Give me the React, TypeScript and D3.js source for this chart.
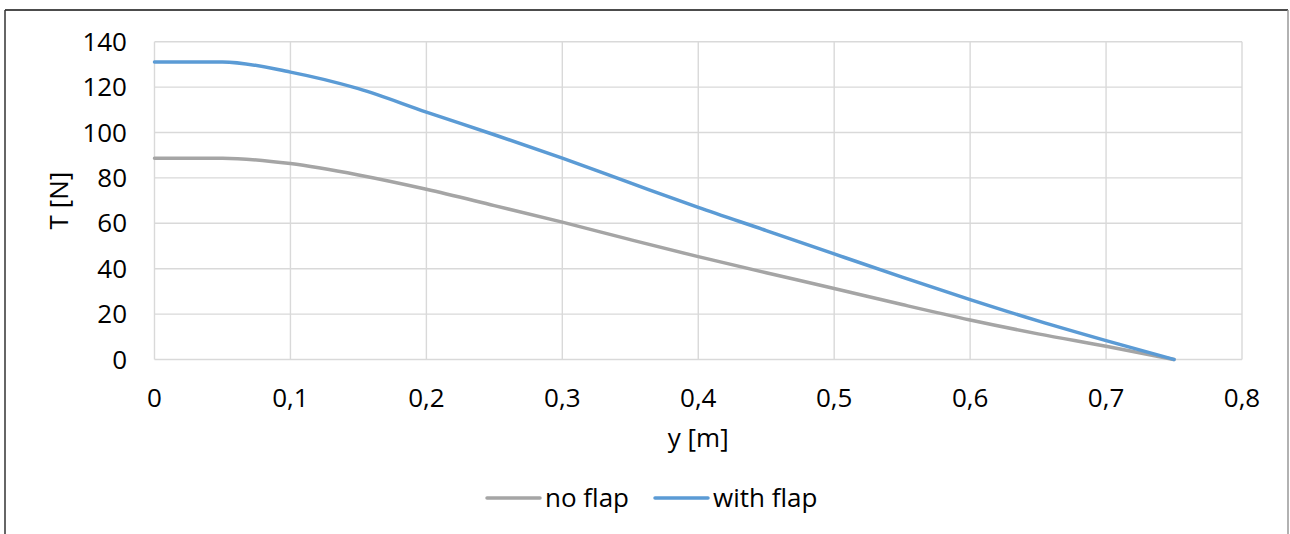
import React from "react";
import * as d3 from "d3";

const yPositions = [0, 0.05, 0.1, 0.15, 0.2, 0.25, 0.3, 0.35, 0.4, 0.45, 0.5, 0.55, 0.6, 0.65, 0.7, 0.75];
const withFlap = [131.1, 131.1, 126.6, 119.3, 109.0, 99.0, 88.7, 77.8, 67.0, 56.8, 46.5, 36.3, 26.4, 17.0, 8.3, 0];
const noFlap = [88.7, 88.7, 86.3, 81.3, 75.0, 67.8, 60.5, 52.8, 45.3, 38.2, 31.3, 24.2, 17.4, 11.3, 5.8, 0];
const xTicks = [0, 0.1, 0.2, 0.3, 0.4, 0.5, 0.6, 0.7, 0.8];
const yTicks = [0, 20, 40, 60, 80, 100, 120, 140];
const seriesNames = ["no flap", "with flap"];
const seriesColors = ["#a5a5a5", "#5b9bd5"];

const W = 1290;
const H = 534;
const FONT = "'Open Sans', 'Liberation Sans', sans-serif";

export default function App() {
  const x = d3.scaleLinear().domain([0, 0.8]).range([154.5, 1242]);
  const y = d3.scaleLinear().domain([0, 140]).range([359.5, 41.7]);
  const line = d3
    .line<[number, number]>()
    .x((d) => x(d[0]))
    .y((d) => y(d[1]))
    .curve(d3.curveMonotoneX);
  const series = [noFlap, withFlap].map((vals) =>
    yPositions.map((p, i) => [p, vals[i]] as [number, number])
  );
  const fmt = (v: number) => (v === 0 ? "0" : String(v).replace(".", ","));

  return (
    <svg
      width={W}
      height={H}
      style={{ position: "absolute", left: 0, top: 0, background: "#fff" }}
      fontFamily={FONT}
    >
      <rect x={0} y={0} width={W} height={H} fill="#fff" />
      {/* outer border */}
      <line x1={5} y1={10} x2={1288} y2={10} stroke="#111" strokeWidth={1.5} />
      <line x1={5} y1={10} x2={5} y2={H} stroke="#333" strokeWidth={1.5} />
      <line x1={1288} y1={10} x2={1288} y2={H} stroke="#999" strokeWidth={1.5} />

      {/* gridlines */}
      {yTicks.map((t) => (
        <line key={"gy" + t} x1={x(0)} x2={x(0.8)} y1={y(t)} y2={y(t)} stroke="#d9d9d9" strokeWidth={1.4} />
      ))}
      {xTicks.map((t) => (
        <line key={"gx" + t} x1={x(t)} x2={x(t)} y1={y(0)} y2={y(140)} stroke="#d9d9d9" strokeWidth={1.4} />
      ))}

      {/* y tick labels */}
      {yTicks.map((t) => (
        <text key={"ty" + t} x={127} y={y(t)} dy="0.35em" textAnchor="end" fontSize={26} fill="#000">
          {t}
        </text>
      ))}
      {/* x tick labels */}
      {xTicks.map((t) => (
        <text key={"tx" + t} x={x(t)} y={407} textAnchor="middle" fontSize={26} fill="#000">
          {fmt(t)}
        </text>
      ))}

      {/* axis titles */}
      <text x={(x(0) + x(0.8)) / 2} y={447} textAnchor="middle" fontSize={26} fill="#000">
        y [m]
      </text>
      <text
        transform={`translate(59, ${(y(0) + y(140)) / 2}) rotate(-90)`}
        textAnchor="middle"
        dy="0.35em"
        fontSize={26}
        fill="#000"
      >
        T [N]
      </text>

      {/* series */}
      {series.map((s, i) => (
        <path
          key={"s" + i}
          d={line(s) || ""}
          fill="none"
          stroke={seriesColors[i]}
          strokeWidth={3.5}
          strokeLinecap="round"
          strokeLinejoin="round"
        />
      ))}

      {/* legend */}
      {seriesNames.map((n, i) => {
        const lx = [487, 655][i];
        return (
          <g key={"lg" + i}>
            <line x1={lx} x2={lx + 53} y1={498} y2={498} stroke={seriesColors[i]} strokeWidth={3.5} strokeLinecap="round" />
            <text x={lx + 58} y={506.5} fontSize={26} fill="#000">
              {n}
            </text>
          </g>
        );
      })}
    </svg>
  );
}
